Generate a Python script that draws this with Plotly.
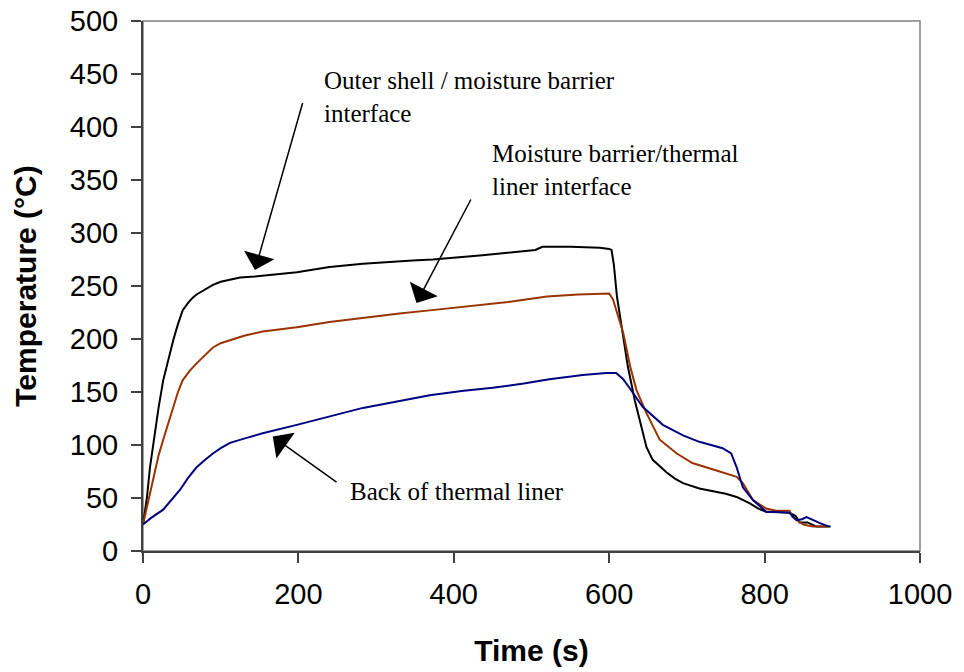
import plotly.graph_objects as go

# Outer shell / moisture barrier interface
t_outer = [0, 2, 5, 9, 15, 20, 26, 33, 39, 45, 51, 58, 64, 69, 80, 90, 100, 112, 125, 144, 170, 198, 240, 283,
           347, 373, 437, 481, 505, 514, 550, 588, 600, 603, 606, 610, 617, 624, 633, 639, 648, 656, 665, 674,
           685, 695, 716, 738, 750, 764, 781, 792, 802, 815, 832, 840, 845, 855, 867, 885]
y_outer = [25, 35, 50, 79, 110, 135, 161, 182, 199, 214, 227, 234, 239, 242, 247, 251, 254, 256, 258, 259, 261, 263, 268, 271,
           274, 275, 279, 282, 284, 287, 287, 286, 285, 284, 270, 240, 205, 174, 142, 124, 98, 86, 80, 74,
           68, 64, 59, 56, 54, 51, 45, 40, 37, 37, 36, 33, 27, 27, 23, 23]

# Moisture barrier / thermal liner interface
t_moist = [0, 4, 9, 15, 20, 26, 33, 39, 45, 51, 60, 69, 80, 90, 100, 112, 130, 154, 198, 240, 283, 330, 369, 420,
           470, 520, 560, 600, 605, 610, 618, 627, 635, 648, 665, 687, 707, 738, 764, 772, 785, 802, 815, 832,
           836, 850, 862, 880]
y_moist = [25, 38, 55, 75, 90, 105, 122, 136, 150, 161, 170, 177, 185, 192, 196, 199, 203, 207, 211, 216, 220, 224, 227, 231,
           235, 240, 242, 243, 237, 225, 206, 174, 152, 130, 105, 92, 83, 76, 70, 64, 48, 40, 38, 38,
           32, 25, 23, 23]

# Back of thermal liner
t_back = [0, 10, 26, 37, 48, 58, 69, 80, 90, 100, 112, 130, 154, 198, 240, 283, 327, 369, 410, 450, 490, 523, 566,
          596, 609, 618, 626, 643, 669, 695, 716, 746, 757, 764, 772, 785, 802, 820, 832, 841, 848, 854, 862,
          872, 883]
y_back = [25, 31, 39, 48, 58, 69, 79, 86, 92, 97, 102, 106, 111, 119, 127, 135, 141, 147, 151, 154, 158, 162, 166,
          168, 168, 162, 154, 136, 119, 109, 103, 97, 92, 79, 60, 48, 37, 36, 36, 29, 30, 32, 29,
          26, 23]

x_ticks = [0, 200, 400, 600, 800, 1000]
y_ticks = [0, 50, 100, 150, 200, 250, 300, 350, 400, 450, 500]

fig = go.Figure()
fig.add_trace(go.Scatter(x=t_outer, y=y_outer, mode="lines", line=dict(color="#000000", width=2),
                         name="Outer shell / moisture barrier interface"))
fig.add_trace(go.Scatter(x=t_moist, y=y_moist, mode="lines", line=dict(color="#993300", width=2),
                         name="Moisture barrier/thermal liner interface"))
fig.add_trace(go.Scatter(x=t_back, y=y_back, mode="lines", line=dict(color="#000080", width=2),
                         name="Back of thermal liner"))

axis_font = dict(family="Liberation Sans, Arial, sans-serif", size=29, color="#000000")
title_font = dict(family="Liberation Sans, Arial, sans-serif", size=30, color="#000000")

fig.update_xaxes(range=[0, 1000], tickvals=x_ticks, ticks="outside", ticklen=10, tickwidth=1.5,
                 tickcolor="#404040", showline=True, linecolor="#404040", linewidth=2,
                 showgrid=False, zeroline=False, tickfont=axis_font, ticklabelstandoff=6,
                 automargin=False,
                 title=dict(text="<b>Time (s)</b>", font=title_font, standoff=31))
fig.update_yaxes(range=[0, 500], tickvals=y_ticks, ticks="outside", ticklen=10, tickwidth=1.5,
                 tickcolor="#404040", showline=True, linecolor="#404040", linewidth=2,
                 showgrid=False, zeroline=False, tickfont=axis_font, ticklabelstandoff=7,
                 automargin=False,
                 title=dict(text="<b>Temperature (°C)</b>", font=title_font, standoff=24))

serif = dict(family="Liberation Serif, Times New Roman, serif", size=25, color="#000000")
annotations = [
    dict(x=230, y=428, text="Outer shell / moisture barrier<br>interface", showarrow=False,
         xanchor="left", yanchor="middle", align="left", font=serif),
    dict(x=446, y=359, text="Moisture barrier/thermal<br>liner interface", showarrow=False,
         xanchor="left", yanchor="middle", align="left", font=serif),
    dict(x=264, y=56, text="Back of thermal liner", showarrow=False,
         xanchor="left", yanchor="middle", align="left", font=serif),
]
arrows = [((206, 424), (144, 265)), ((423, 333), (352, 234)), ((251, 64), (167, 108))]
for (sx, sy), (ex, ey) in arrows:
    annotations.append(dict(x=ex, y=ey, ax=sx, ay=sy, xref="x", yref="y", axref="x", ayref="y",
                            text="", showarrow=True, arrowhead=1, arrowsize=3.5, arrowwidth=1.5,
                            arrowcolor="#000000", standoff=0, startstandoff=0))

fig.update_layout(
    width=964, height=672,
    margin=dict(l=143, r=44, t=21, b=121),
    paper_bgcolor="white", plot_bgcolor="white",
    showlegend=False,
    annotations=annotations,
    shapes=[dict(type="rect", xref="paper", yref="paper", x0=0, x1=1, y0=0, y1=1,
                 line=dict(color="#808080", width=1.5), layer="below")],
)

fig.write_html("out.html")
